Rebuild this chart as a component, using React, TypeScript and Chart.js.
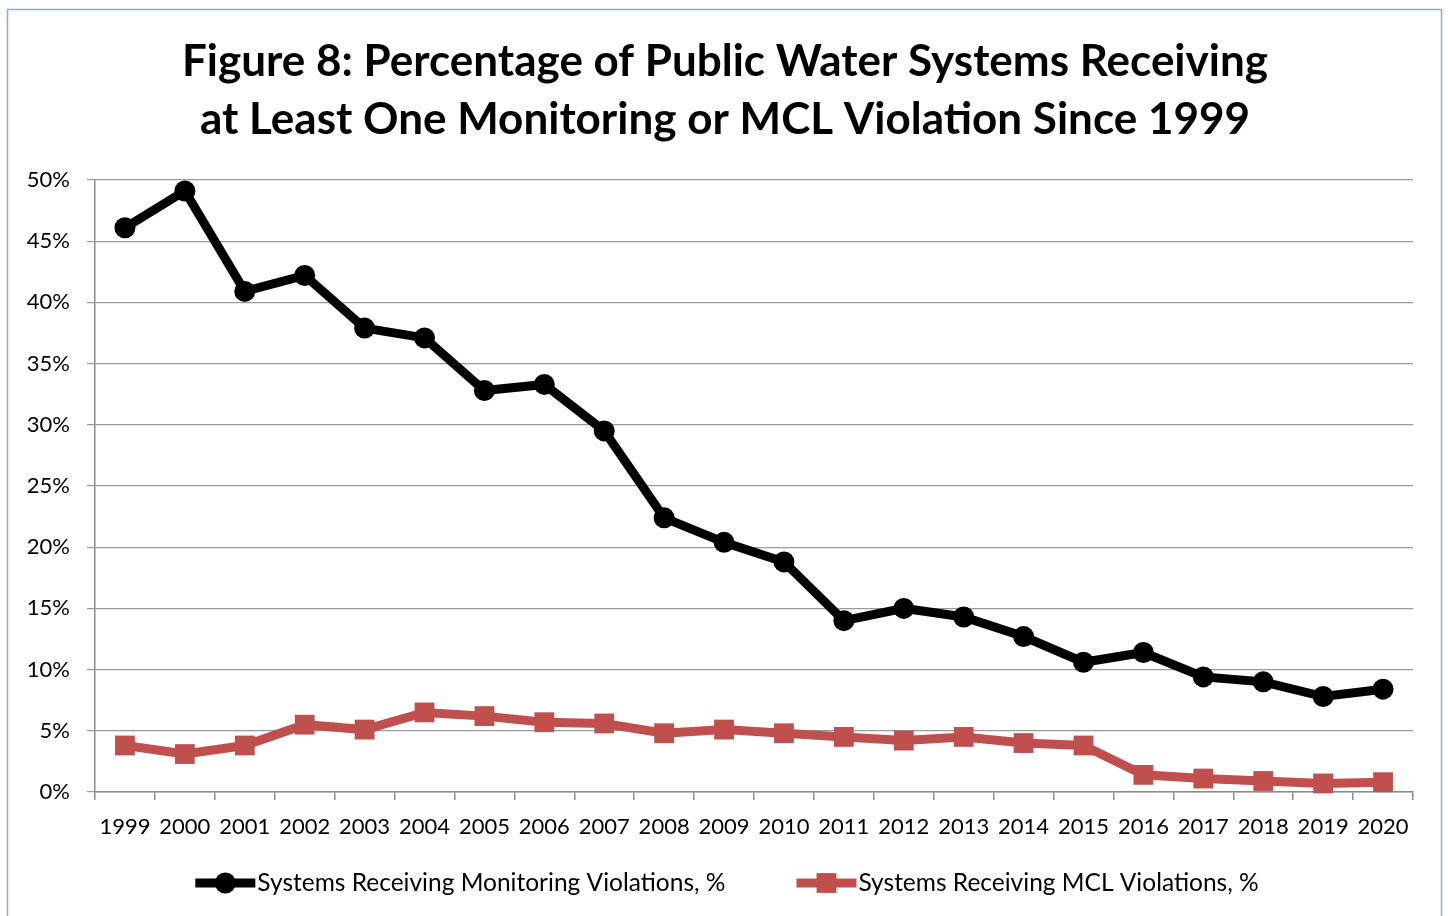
import React, { useEffect, useRef } from "react";
import { Chart, registerables } from "chart.js";

Chart.register(...registerables);

const years = ["1999","2000","2001","2002","2003","2004","2005","2006","2007","2008","2009","2010","2011","2012","2013","2014","2015","2016","2017","2018","2019","2020"];
const monitoringViolations = [46.1,49.1,40.9,42.2,37.9,37.1,32.8,33.3,29.5,22.4,20.4,18.8,14.0,15.0,14.3,12.7,10.6,11.4,9.4,9.0,7.8,8.4];
const mclViolations = [3.8,3.1,3.8,5.5,5.1,6.5,6.2,5.7,5.6,4.8,5.1,4.8,4.5,4.2,4.5,4.0,3.8,1.4,1.1,0.9,0.7,0.8];
const titleLines = ["Figure 8: Percentage of Public Water Systems Receiving", "at Least One Monitoring or MCL Violation Since 1999"];
const seriesLabels = ["Systems Receiving Monitoring Violations, %", "Systems Receiving MCL Violations, %"];

const FONT = "Lato, 'Open Sans', sans-serif";

const frameTitleLegend = {
  id: "frameTitleLegend",
  beforeDraw(chart: any) {
    const ctx = chart.ctx;
    ctx.save();
    ctx.fillStyle = "#ffffff";
    ctx.fillRect(0, 0, chart.width, chart.height);
    ctx.strokeStyle = "#8eaadb";
    ctx.lineWidth = 1.5;
    ctx.strokeRect(7.5, 9.5, 1434, 940);
    ctx.restore();
  },
  afterDraw(chart: any) {
    const ctx = chart.ctx;
    ctx.save();
    // title
    ctx.font = `bold 44px ${FONT}`;
    ctx.fillStyle = "#000";
    ctx.textAlign = "center";
    ctx.textBaseline = "middle";
    titleLines.forEach((line, i) => ctx.fillText(line, 725, 62 + i * 58));

    // legend
    ctx.font = `24.5px ${FONT}`;
    ctx.textBaseline = "middle";
    const sample = 60;
    const gap = 71;
    const items = chart.data.datasets.map((ds: any) => ({
      ds,
      w: sample + 2 + ctx.measureText(ds.label).width,
    }));
    const total = items.reduce((a: number, it: any) => a + it.w, 0) + gap * (items.length - 1);
    let x = 727 - total / 2;
    const y = 883;
    items.forEach((it: any) => {
      const ds = it.ds;
      ctx.strokeStyle = ds.borderColor;
      ctx.lineWidth = ds.borderWidth;
      ctx.lineCap = "butt";
      ctx.beginPath();
      ctx.moveTo(x, y);
      ctx.lineTo(x + sample, y);
      ctx.stroke();
      ctx.fillStyle = ds.pointBackgroundColor;
      const cx = x + sample / 2;
      if (ds.pointStyle === "rect") {
        const s = ds.pointRadius * Math.SQRT1_2;
        ctx.fillRect(cx - s, y - s, 2 * s, 2 * s);
      } else {
        ctx.beginPath();
        ctx.arc(cx, y, ds.pointRadius, 0, Math.PI * 2);
        ctx.fill();
      }
      ctx.fillStyle = "#000";
      ctx.textAlign = "left";
      ctx.fillText(ds.label, x + sample + 2, y);
      x += it.w + gap;
    });
    ctx.restore();
  },
};

export default function App() {
  const ref = useRef<HTMLCanvasElement>(null);
  useEffect(() => {
    if (!ref.current) return;
    const chart = new Chart(ref.current, {
      type: "line",
      data: {
        labels: years,
        datasets: [
          {
            label: seriesLabels[0],
            data: monitoringViolations,
            borderColor: "#000000",
            backgroundColor: "#000000",
            pointBackgroundColor: "#000000",
            borderWidth: 9,
            pointRadius: 10.5,
            pointStyle: "circle",
            pointBorderWidth: 0,
            tension: 0,
            clip: false as any,
          },
          {
            label: seriesLabels[1],
            data: mclViolations,
            borderColor: "#C0504D",
            backgroundColor: "#C0504D",
            pointBackgroundColor: "#C0504D",
            borderWidth: 9,
            pointRadius: 14,
            pointStyle: "rect",
            pointBorderWidth: 0,
            tension: 0,
            clip: false as any,
          },
        ],
      },
      options: {
        responsive: false,
        animation: false,
        devicePixelRatio: 1,
        layout: { padding: { top: 180, left: 0, right: 35, bottom: 0 } },
        plugins: {
          legend: { display: false },
          tooltip: { enabled: false },
          title: { display: false },
        },
        scales: {
          x: {
            offset: true,
            grid: { offset: true, drawOnChartArea: false, drawTicks: true, tickLength: 8, color: "#8c8c8c", lineWidth: 1.5 },
            border: { display: true, color: "#8c8c8c", width: 1.5 },
            ticks: { color: "#000", font: { family: FONT, size: 22 }, padding: 14, maxRotation: 0, autoSkip: false },
            afterFit: (s: any) => { s.height = 124; },
          },
          y: {
            min: 0,
            max: 50,
            grid: { color: "#9a9a9a", lineWidth: 1.2, tickLength: 8 },
            border: { display: true, color: "#8c8c8c", width: 1.5 },
            ticks: { stepSize: 5, color: "#000", font: { family: FONT, size: 22 }, padding: 17, callback: (v: any) => v + "%" },
            afterFit: (s: any) => { s.width = 95; },
          },
        },
      },
      plugins: [frameTitleLegend],
    });
    return () => chart.destroy();
  }, []);
  return (
    <div style={{ position: "absolute", left: 0, top: 0, width: 1448, height: 916 }}>
      <canvas ref={ref} width={1448} height={916} style={{ display: "block" }} />
    </div>
  );
}
